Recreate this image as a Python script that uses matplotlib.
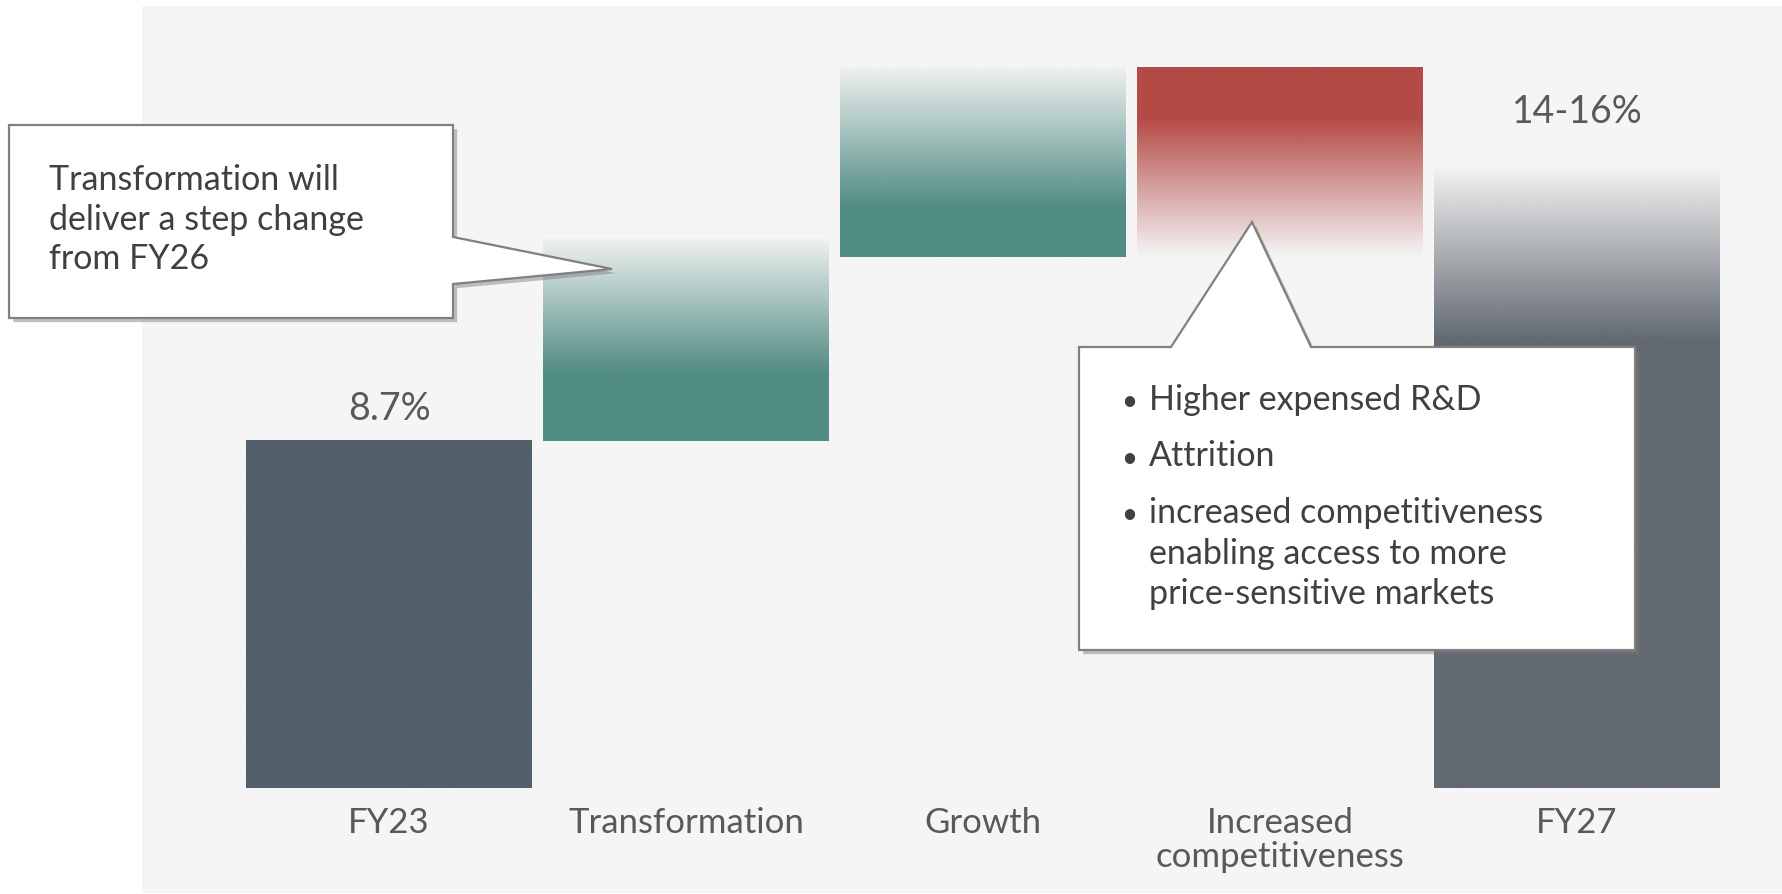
import numpy as np
import matplotlib
matplotlib.use('Agg')
import matplotlib.pyplot as plt
from matplotlib.patches import Rectangle, Polygon
import matplotlib.patheffects as pe

plt.rcParams['font.family'] = ['Lato', 'DejaVu Sans']

# datos del grafico (margen, %)
categorias = ['FY23', 'Transformation', 'Growth', 'Increased\ncompetitiveness', 'FY27']
base_barra = [0, 8.7, 13.3, 13.3, 0]
tope_barra = [8.7, 13.75, 18.05, 18.05, 15.5]
colores = ['#535f6b', '#518c83', '#518c83', '#b44a45', '#626971']
# fraccion solida de cada barra y sentido del degradado
parte_solida = [1.0, 0.34, 0.27, 0.27, 0.725]
sentido = ['none', 'up', 'up', 'down', 'up']

etiquetas_valor = ['8.7%', '14-16%']
texto_nota1 = ['Transformation will', 'deliver a step change', 'from FY26']
texto_nota2 = [['Higher expensed R&D'], ['Attrition'],
               ['increased competitiveness', 'enabling access to more', 'price-sensitive markets']]

W, H = 1783, 894
fig = plt.figure(figsize=(W / 100, H / 100), dpi=100)
fig.patch.set_facecolor('white')

def fx(px):
    return px / W

def fy(py):
    return 1 - py / H

# panel gris de fondo
fig.add_artist(Rectangle((fx(142), fy(893)), fx(1783) - fx(142), fy(6) - fy(893),
                         transform=fig.transFigure, facecolor='#f5f5f5', edgecolor='none', zorder=-1))

ax = fig.add_axes([240.5 / W, 106 / H, 1485 / W, 758 / H])
ax.set_facecolor('none')

ancho = 0.96
for i in range(len(categorias)):
    b, t = base_barra[i], tope_barra[i]
    rgb = matplotlib.colors.to_rgb(colores[i])
    n = 300
    f = np.linspace(0, 1, n)  # 0 abajo, 1 arriba
    s = parte_solida[i]
    if sentido[i] == 'up':
        alpha = np.where(f <= s, 1.0, 1.0 - (f - s) / (1 - s) * 0.96)
    elif sentido[i] == 'down':
        alpha = np.where(f >= 1 - s, 1.0, 0.0 + f / (1 - s))
    else:
        alpha = np.ones(n)
    img = np.zeros((n, 1, 4))
    img[:, 0, :3] = rgb
    img[:, 0, 3] = np.clip(alpha, 0, 1)
    ax.imshow(img, extent=(i - ancho / 2, i + ancho / 2, b, t), origin='lower',
              aspect='auto', interpolation='bilinear', zorder=2)

ax.set_xlim(-0.5, len(categorias) - 0.5)
ax.set_ylim(0, 19)
for sp in ax.spines.values():
    sp.set_visible(False)
ax.set_yticks([])
ax.set_xticks(range(len(categorias)), categorias, fontsize=25, color='#595959', linespacing=1.05)
ax.tick_params(axis='x', length=0, pad=14)

# etiquetas de valor
ax.annotate(etiquetas_valor[0], (0, tope_barra[0]), xytext=(0, 21), textcoords='offset pixels',
            ha='center', va='baseline', fontsize=27, color='#595959')
ax.annotate(etiquetas_valor[1], (4, tope_barra[4]), xytext=(0, 47), textcoords='offset pixels',
            ha='center', va='baseline', fontsize=27, color='#595959')

sombra = [pe.withSimplePatchShadow(offset=(3, -3), shadow_rgbFace='#777777', alpha=0.45)]

# nota 1
pts1 = [(9, 125), (453, 125), (453, 237), (612, 269), (453, 284), (453, 318), (9, 318)]
fig.add_artist(Polygon([(fx(x), fy(y)) for x, y in pts1], closed=True, transform=fig.transFigure,
                       facecolor='white', edgecolor='#808080', linewidth=1.6, zorder=5,
                       path_effects=sombra))
for k, linea in enumerate(texto_nota1):
    fig.text(fx(49), fy(190 + 39.5 * k), linea, fontsize=24.5, color='#404040',
             va='baseline', ha='left', zorder=6)

# nota 2
pts2 = [(1079, 347), (1171, 347), (1252, 222), (1311, 347), (1635, 347), (1635, 650), (1079, 650)]
fig.add_artist(Polygon([(fx(x), fy(y)) for x, y in pts2], closed=True, transform=fig.transFigure,
                       facecolor='white', edgecolor='#808080', linewidth=1.6, zorder=5,
                       path_effects=sombra))
y0 = 410
for item in texto_nota2:
    fig.text(fx(1121), fy(y0), '•', fontsize=20, color='#404040', va='baseline', ha='left', zorder=6)
    for linea in item:
        fig.text(fx(1149), fy(y0), linea, fontsize=24.5, color='#404040',
                 va='baseline', ha='left', zorder=6)
        y0 += 40.5
    y0 += 16

fig.savefig('out.png', dpi=100)
